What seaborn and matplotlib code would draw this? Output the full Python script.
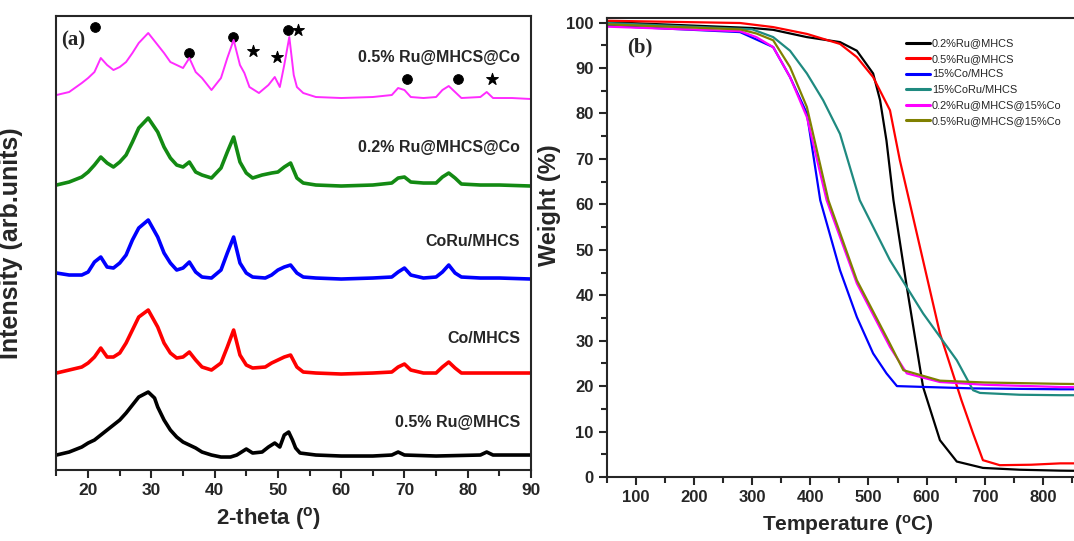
import numpy as np
import pandas as pd
import matplotlib
matplotlib.use('Agg')
import matplotlib.pyplot as plt
import seaborn as sns

# ---- XRD data (a), intensities in arbitrary units ----
xrd_labels = ['0.5% Ru@MHCS@Co', '0.2% Ru@MHCS@Co', 'CoRu/MHCS', 'Co/MHCS', '0.5% Ru@MHCS']
xrd_colors = ['#ff2cff', '#138a13', '#0000ff', '#ff0000', '#000000']

mag_t = [15, 17, 19, 20, 21, 22, 23, 24, 25, 26, 27, 28, 29.5, 31, 32, 33, 34, 35, 36, 37, 38, 39.5,
         41, 42, 43, 44, 44.7, 45.5, 47, 48.5, 49.5, 50.3, 51, 51.8, 52.5, 53, 54, 56, 60, 65, 68,
         69, 70, 71, 73, 75, 76, 77, 78, 79, 82, 83, 84, 87, 90]
mag_i = [375, 378, 387, 392, 398, 412, 405, 400, 403, 408, 417, 427, 437, 425, 417, 408, 405, 402, 412, 398, 392, 380,
         392, 412, 430, 405, 397, 383, 377, 385, 393, 383, 405, 433, 395, 383, 377, 373, 372, 373, 375,
         382, 380, 373, 372, 373, 380, 384, 378, 372, 373, 378, 372, 372, 371]

grn_t = [15, 17, 19, 20, 21, 22, 23, 24, 25, 26, 27, 28, 29.5, 31, 32, 33, 34, 35, 36, 37, 38, 39.5,
         41, 42, 43, 44, 45, 46, 47.5, 49, 50, 51, 52, 53, 54, 56, 60, 65, 68, 69, 70, 71, 73, 75,
         76, 77, 78, 79, 82, 85, 90]
grn_i = [285, 288, 293, 298, 305, 313, 307, 303, 308, 315, 328, 342, 352, 338, 323, 312, 305, 303, 308, 298, 295, 292,
         302, 318, 333, 308, 297, 292, 295, 297, 298, 303, 307, 292, 287, 285, 284, 285, 287, 292, 293, 288, 287, 287,
         293, 297, 292, 286, 285, 285, 284]

blu_t = [15, 17, 19, 20, 21, 22, 23, 24, 25, 26, 27, 28, 29.5, 31, 32, 33, 34, 35, 36, 37, 38, 39.5,
         41, 42, 43, 44, 45, 46, 48, 49, 50, 51, 52, 53, 54, 56, 60, 65, 68, 69, 70, 71, 73, 75,
         76, 77, 78, 79, 82, 85, 90]
blu_i = [197, 195, 195, 198, 208, 213, 203, 202, 207, 215, 230, 242, 250, 233, 217, 207, 200, 202, 208, 198, 193, 192,
         200, 217, 233, 207, 197, 193, 192, 195, 200, 203, 205, 197, 193, 192, 191, 192, 193, 198, 202, 195, 192, 193,
         198, 205, 197, 193, 192, 192, 191]

red_t = [15, 17, 19, 20, 21, 22, 23, 24, 25, 26, 27, 28, 29.5, 31, 32, 33, 34, 35, 36, 37, 38, 39.5,
         41, 42, 43, 44, 45, 46, 48, 49, 50, 51, 52, 53, 54, 56, 60, 65, 68, 69, 70, 71, 73, 75,
         76, 77, 78, 79, 82, 90]
red_i = [97, 100, 103, 107, 113, 122, 113, 113, 117, 127, 140, 153, 160, 143, 127, 117, 112, 113, 118, 110, 103, 100,
         107, 123, 140, 115, 105, 102, 103, 107, 110, 113, 115, 103, 98, 97, 96, 97, 98, 103, 106, 100, 97, 97,
         103, 108, 102, 97, 97, 97]

blk_t = [15, 17, 19, 20, 21, 22, 23, 24, 25, 26, 27, 28, 29.5, 30.5, 31, 32, 33, 34, 35, 36, 37, 38, 39.5,
         41, 42.5, 43.5, 45, 46, 47.5, 48.5, 49.5, 50.3, 51, 51.7, 52.3, 52.8, 53.5, 56, 60, 65, 68, 69, 70,
         75, 82, 83, 84, 90]
blk_i = [15, 18, 23, 27, 30, 35, 40, 45, 50, 57, 65, 73, 78, 72, 63, 50, 40, 33, 28, 25, 22, 18, 15,
         13, 13, 15, 21, 17, 18, 23, 27, 23, 35, 38, 30, 22, 17, 15, 14, 14, 15, 18, 15,
         14, 15, 18, 15, 15]

xrd_t = [mag_t, grn_t, blu_t, red_t, blk_t]
xrd_i = [mag_i, grn_i, blu_i, red_i, blk_i]
xrd_lw = [1.4, 2.6, 2.6, 2.6, 2.6]
label_y = [413, 323, 229, 132, 48]

# peak markers (Co = circle, Ru = star)
circ_x = [21.1, 35.9, 42.9, 51.6, 70.4, 78.4]
circ_y = [443, 417, 433, 440, 391, 391]
star_x = [46.0, 49.8, 53.2, 83.8]
star_y = [419, 413, 440, 391]

# ---- TGA data (b) ----
tga_labels = ['0.2%Ru@MHCS', '0.5%Ru@MHCS', '15%Co/MHCS', '15%CoRu/MHCS',
              '0.2%Ru@MHCS@15%Co', '0.5%Ru@MHCS@15%Co']
tga_colors = ['#000000', '#ff0000', '#0000ff', '#1f8a80', '#ff00ff', '#808000']

blk_T = [50, 300, 336, 394, 451, 480, 508, 520, 531, 543, 566, 594, 623, 652, 697, 760, 830, 900]
blk_W = [100.1, 98.8, 98.4, 96.8, 95.7, 93.8, 88.8, 82.9, 74.0, 60.9, 41.8, 19.8, 8.1, 3.4, 2.0, 1.6, 1.4, 1.3]
red_T = [50, 279, 336, 394, 451, 480, 508, 537, 554, 570, 623, 660, 680, 697, 726, 780, 830, 900]
red_W = [100.4, 99.9, 99.0, 97.5, 95.3, 92.4, 88.0, 80.7, 69.7, 60.9, 31.6, 16.9, 9.6, 3.7, 2.6, 2.7, 3.0, 3.0]
blu_T = [50, 279, 336, 365, 394, 417, 451, 480, 508, 531, 549, 600, 680, 830, 900]
blu_W = [99.3, 97.9, 94.6, 88.0, 80.0, 60.9, 45.5, 35.2, 27.2, 22.8, 20.0, 19.8, 19.5, 19.3, 19.3]
tea_T = [50, 300, 336, 365, 394, 422, 451, 485, 537, 594, 652, 680, 692, 760, 830, 900]
tea_W = [99.9, 98.5, 96.8, 93.8, 88.8, 82.9, 75.5, 60.9, 47.7, 36.0, 25.7, 19.1, 18.5, 18.1, 18.0, 18.0]
mag_T = [50, 279, 307, 336, 365, 394, 428, 480, 537, 566, 623, 700, 830, 900]
mag_W = [99.1, 98.1, 96.8, 94.6, 88.0, 79.2, 60.9, 42.6, 28.6, 22.8, 20.9, 20.3, 19.8, 19.7]
oli_T = [50, 279, 307, 336, 365, 394, 431, 480, 537, 560, 623, 700, 830, 900]
oli_W = [99.6, 98.5, 97.6, 96.1, 90.2, 81.4, 60.9, 43.3, 29.3, 23.5, 21.2, 20.8, 20.5, 20.4]

tga_T = [blk_T, red_T, blu_T, tea_T, mag_T, oli_T]
tga_W = [blk_W, red_W, blu_W, tea_W, mag_W, oli_W]

sns.set_style('ticks')
plt.rcParams['font.family'] = ['Liberation Sans', 'DejaVu Sans']
plt.rcParams['font.weight'] = 'bold'
plt.rcParams['axes.linewidth'] = 1.5
plt.rcParams['mathtext.default'] = 'regular'

fig = plt.figure(figsize=(10.74, 5.41), dpi=100)

# ---------------- panel (a) ----------------
ax1 = fig.add_axes([0.0526, 0.1312, 0.4418, 0.8392])
for t, i, c, lw in zip(xrd_t, xrd_i, xrd_colors, xrd_lw):
    sns.lineplot(x=t, y=i, color=c, lw=lw, ax=ax1)
sns.scatterplot(x=circ_x, y=circ_y, marker='o', s=50, color='black', edgecolor='black', ax=ax1)
sns.scatterplot(x=star_x, y=star_y, marker='*', s=80, color='black', edgecolor='black', ax=ax1)
for lab, ly in zip(xrd_labels, label_y):
    ax1.text(88.3, ly, lab, ha='right', va='center', fontsize=11.5, fontweight='bold')
ax1.text(15.8, 430, '(a)', fontsize=15, fontweight='bold', family='Liberation Serif', va='center')

ax1.set_xlim(15, 90)
ax1.set_ylim(0, 454)
ax1.set_xticks(np.arange(20, 91, 10))
ax1.set_xticks(np.arange(15, 91, 5), minor=True)
ax1.set_yticks([])
ax1.tick_params(axis='x', which='major', length=6, width=1.5, labelsize=12.5)
ax1.tick_params(axis='x', which='minor', length=4, width=1.5)
for lab in ax1.get_xticklabels():
    lab.set_fontweight('bold')
ax1.set_xlabel('2-theta ($^{o}$)', fontsize=16, fontweight='bold')
ax1.xaxis.set_label_coords(0.446, -0.078)
ax1.set_ylabel('Intensity (arb.units)', fontsize=18, fontweight='bold')
ax1.yaxis.set_label_coords(-0.07, 0.5)

# ---------------- panel (b) ----------------
ax2 = fig.add_axes([0.5652, 0.1183, 0.449, 0.8484])
for T, W, c, lab in zip(tga_T, tga_W, tga_colors, tga_labels):
    sns.lineplot(x=T, y=W, color=c, lw=1.6, label=lab, ax=ax2)
ax2.set_xlim(50, 880)
ax2.set_ylim(0, 101)
ax2.set_xticks(np.arange(100, 801, 100))
ax2.set_xticks(np.arange(50, 851, 50), minor=True)
ax2.set_yticks(np.arange(0, 101, 10))
ax2.set_yticks(np.arange(0, 101, 5), minor=True)
ax2.tick_params(which='major', length=6, width=1.5, labelsize=12)
ax2.tick_params(which='minor', length=4, width=1.5)
for lab in ax2.get_xticklabels() + ax2.get_yticklabels():
    lab.set_fontweight('bold')
ax2.text(85, 94.5, '(b)', fontsize=15, fontweight='bold', family='Liberation Serif', va='center')
ax2.set_xlabel('Temperature ($^{o}$C)', fontsize=15, fontweight='bold')
ax2.xaxis.set_label_coords(0.5, -0.078)
ax2.set_ylabel('Weight (%)', fontsize=17, fontweight='bold')
ax2.yaxis.set_label_coords(-0.095, 0.593)

leg = ax2.legend(loc='upper left', bbox_to_anchor=(0.61, 0.965), frameon=False,
                 fontsize=7.9, handlelength=2.2, handletextpad=0.2, labelspacing=0.5,
                 borderaxespad=0)
for txt in leg.get_texts():
    txt.set_fontweight('normal')
for ln in leg.get_lines():
    ln.set_linewidth(2.2)

fig.savefig('out.png', dpi=100)
